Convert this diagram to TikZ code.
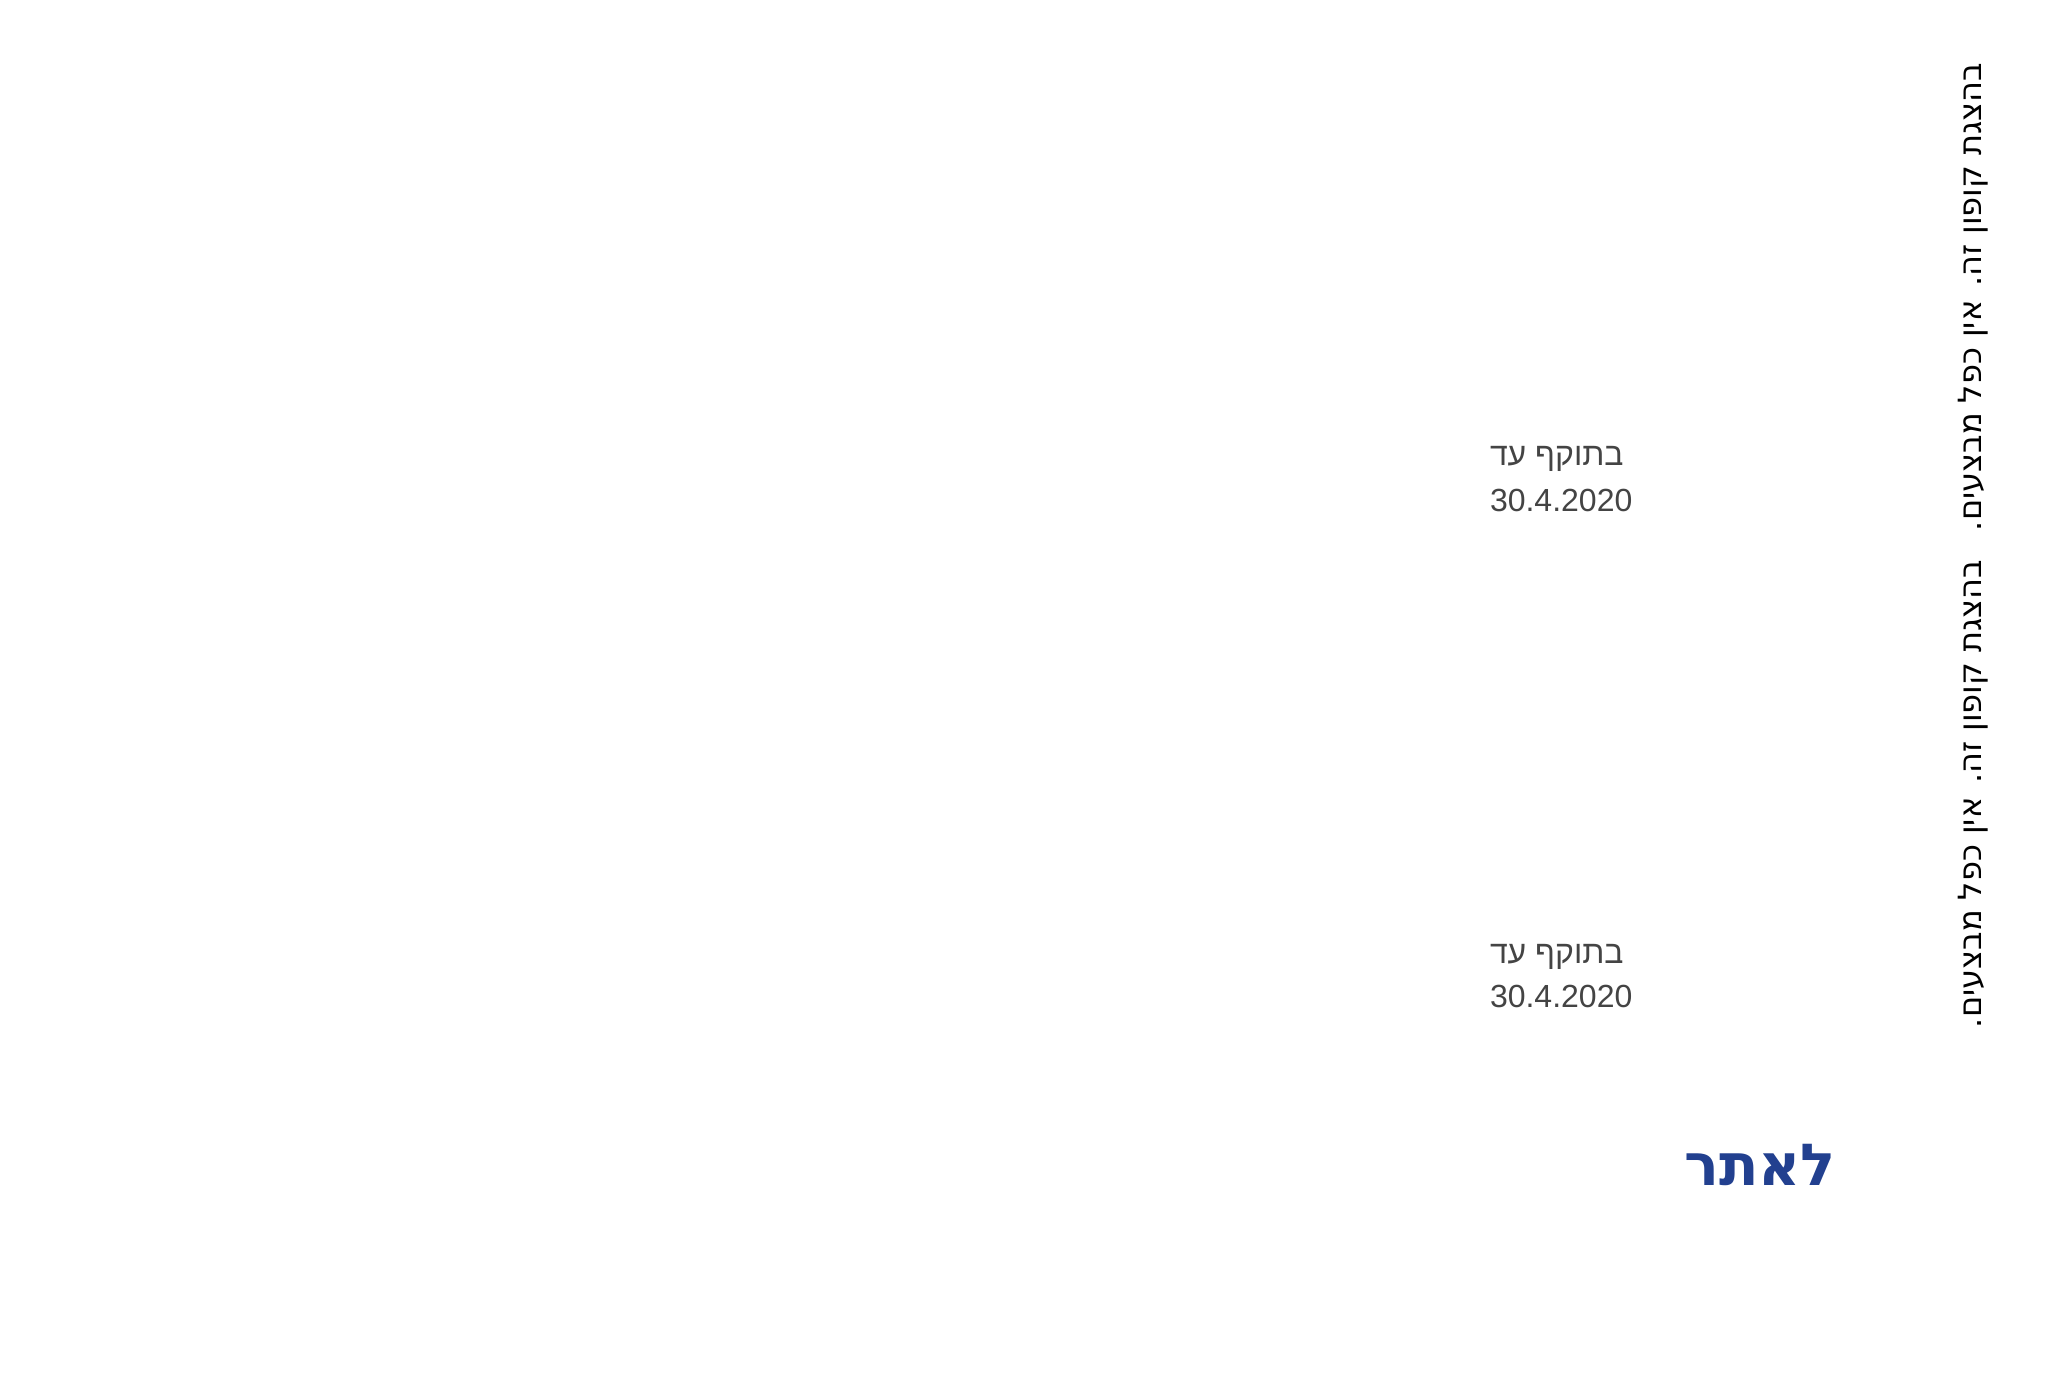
\documentclass[tikz,border=0pt]{standalone}
\usepackage{fontspec}
\setmainfont{Liberation Sans}
\newfontfamily\notefont[Script=Hebrew]{DejaVu Sans}
\usepackage{tikz}
\usetikzlibrary{positioning}
\TeXXeTstate=1
\definecolor{linkblue}{HTML}{22408F}
\definecolor{dategray}{HTML}{444444}

\begin{document}
\begin{tikzpicture}
        [x=0.5pt,y=-0.5pt,every node/.style={inner sep=0,outer sep=0}]
        \useasboundingbox (0,0) rectangle (2050,1385);

        \node[rotate=90,anchor=base east,font=\notefont\fontsize{16}{19}\selectfont] (note1) at (1981,63) {\beginR בהצגת קופון זה. אין כפל מבצעים.\endR};
        \node[rotate=90,anchor=base east,font=\notefont\fontsize{16}{19}\selectfont] (note2) at (1981,560) {\beginR בהצגת קופון זה. אין כפל מבצעים.\endR};

        \node[anchor=base west,text=dategray,font=\fontsize{16}{19}\selectfont] (valid1) at (1490,466) {\beginR בתוקף עד\endR};
        \node[anchor=base west,text=dategray,font=\fontsize{16}{19}\selectfont] (date1) at (1490,511) {30.4.2020};

        \node[anchor=base west,text=dategray,font=\fontsize{16}{19}\selectfont] (valid2) at (1490,963) {\beginR בתוקף עד\endR};
        \node[anchor=base west,text=dategray,font=\fontsize{16}{19}\selectfont] (date2) at (1490,1007) {30.4.2020};

        \node[anchor=base east,text=linkblue,font=\notefont\fontsize{29}{34}\selectfont\bfseries] (link) at (1836,1185) {\beginR לאתר\endR};

      \end{tikzpicture}
\end{document}
